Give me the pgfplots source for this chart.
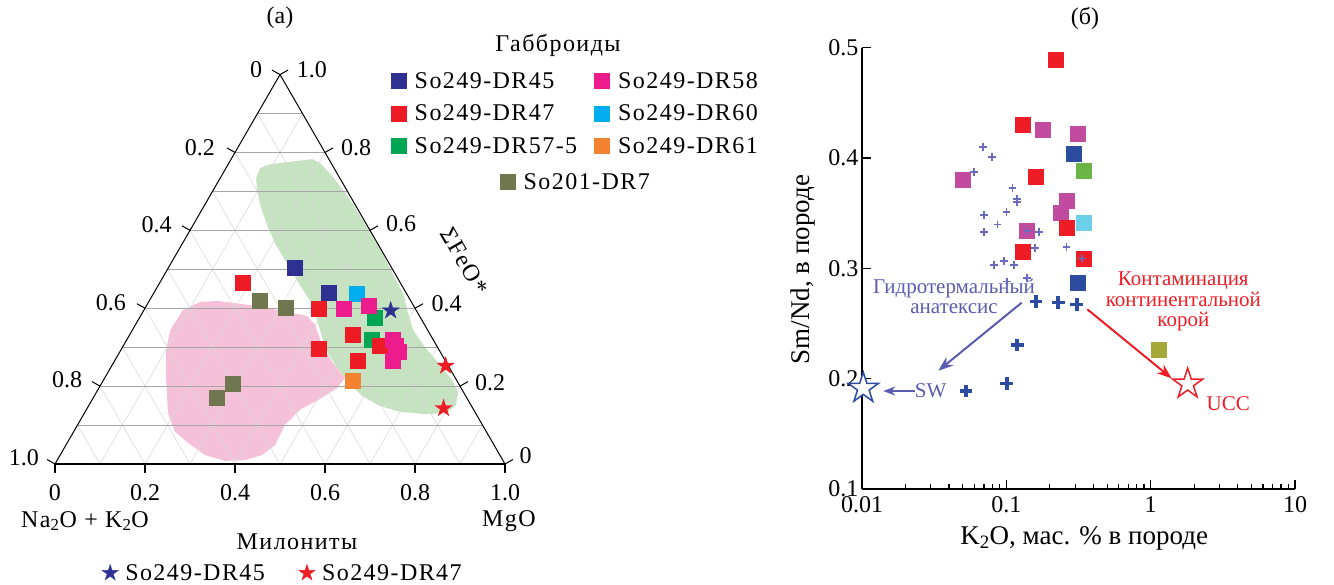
\documentclass[border=0pt]{standalone}
\usepackage{fontspec}
\setmainfont{Liberation Serif}
\newfontfamily\lsf[LetterSpace=6]{Liberation Serif}
\usepackage{pgfplots}
\pgfplotsset{compat=1.18}
\usetikzlibrary{arrows.meta}

\newcommand{\fs}{\fontsize{24}{28}\selectfont}
\newcommand{\fb}{\fontsize{27}{31}\selectfont}
\newcommand{\fl}{\lsf\fontsize{24}{28}\selectfont}
\newcommand{\fsm}{\fontsize{21}{20.5}\selectfont}

\definecolor{cnavy}{HTML}{2E3192}
\definecolor{cred}{HTML}{ED1C24}
\definecolor{cgreen}{HTML}{00A651}
\definecolor{cmag}{HTML}{EC1C8C}
\definecolor{ccyan}{HTML}{00AEEF}
\definecolor{corange}{HTML}{F38331}
\definecolor{colive}{HTML}{707650}
\definecolor{fpink}{HTML}{F5C1D9}
\definecolor{fgreen}{HTML}{C6E3C1}
\definecolor{gridh}{HTML}{A6A6A6}
\definecolor{gridd}{HTML}{D9D9D9}
\definecolor{bred}{HTML}{EE1D25}
\definecolor{bpurp}{HTML}{C04B9F}
\definecolor{bnavy}{HTML}{2B4C9F}
\definecolor{bgreen}{HTML}{6AB545}
\definecolor{bcyan}{HTML}{6CD0E8}
\definecolor{bolive}{HTML}{A5A93A}
\definecolor{bplus}{HTML}{6B6BBD}
\definecolor{bplusd}{HTML}{2B4CA0}
\definecolor{hyd}{HTML}{5B5BB0}

\pgfdeclareplotmark{fstar}{%
  \pgfpathmoveto{\pgfqpoint{0pt}{\pgfplotmarksize}}%
  \pgfpathlineto{\pgfqpoint{-0.2245\pgfplotmarksize}{0.309\pgfplotmarksize}}%
  \pgfpathlineto{\pgfqpoint{-0.951\pgfplotmarksize}{0.309\pgfplotmarksize}}%
  \pgfpathlineto{\pgfqpoint{-0.363\pgfplotmarksize}{-0.118\pgfplotmarksize}}%
  \pgfpathlineto{\pgfqpoint{-0.588\pgfplotmarksize}{-0.809\pgfplotmarksize}}%
  \pgfpathlineto{\pgfqpoint{0pt}{-0.382\pgfplotmarksize}}%
  \pgfpathlineto{\pgfqpoint{0.588\pgfplotmarksize}{-0.809\pgfplotmarksize}}%
  \pgfpathlineto{\pgfqpoint{0.363\pgfplotmarksize}{-0.118\pgfplotmarksize}}%
  \pgfpathlineto{\pgfqpoint{0.951\pgfplotmarksize}{0.309\pgfplotmarksize}}%
  \pgfpathlineto{\pgfqpoint{0.2245\pgfplotmarksize}{0.309\pgfplotmarksize}}%
  \pgfpathclose
  \pgfusepathqfillstroke}

\newcommand{\seg}[5][]{\addplot[#1, forget plot] coordinates {(#2,#3) (#4,#5)};}

\pgfplotsset{
  ternbox/.style={at={(55pt,121pt)}, anchor=south west, scale only axis,
    width=450pt, height=389.4pt, xmin=0, xmax=1, ymin=0, ymax=1, clip=false},
  mylegimg/.style={legend image code/.code={\draw[##1] plot coordinates {(0pt,0pt)};}},
}

\begin{document}
\begin{tikzpicture}[font=\fs]
\useasboundingbox (0,0) rectangle (1334pt,585pt);

%================ panel (a) =================
\begin{axis}[ternbox, axis lines=none, mylegimg,
  legend columns=2, legend cell align=left,
  legend style={at={(0.7456,0.9)}, anchor=west, draw=none, fill=none,
    inner xsep=0pt, inner ysep=0pt, font=\fl, row sep=11pt,
    nodes={inner sep=2pt},
    /tikz/every odd column/.append style={column sep=7pt},
    /tikz/every even column/.append style={column sep=15pt}}]

% fields
\addplot[fill=fpink, draw=none, forget plot] coordinates {
(0.322,0.416) (0.360,0.419) (0.433,0.408) (0.507,0.393) (0.560,0.380) (0.578,0.357)
(0.593,0.306) (0.616,0.262) (0.644,0.221) (0.627,0.195) (0.584,0.164) (0.544,0.139)
(0.511,0.100) (0.489,0.049) (0.460,0.023) (0.422,0.010) (0.378,0.008) (0.333,0.023)
(0.296,0.054) (0.267,0.082) (0.251,0.131) (0.247,0.216) (0.247,0.293) (0.256,0.344)
(0.284,0.395)} -- cycle;
\addplot[fill=fgreen, draw=none, forget plot] coordinates {
(0.447,0.734) (0.456,0.760) (0.478,0.770) (0.522,0.776) (0.571,0.783) (0.589,0.773)
(0.618,0.737) (0.656,0.678) (0.693,0.609) (0.727,0.542) (0.755,0.478) (0.775,0.434)
(0.784,0.390) (0.796,0.344) (0.822,0.300) (0.856,0.254) (0.882,0.216) (0.896,0.185)
(0.891,0.152) (0.871,0.131) (0.822,0.128) (0.767,0.134) (0.722,0.149) (0.682,0.175)
(0.651,0.211) (0.624,0.252) (0.602,0.293) (0.589,0.344) (0.573,0.408) (0.544,0.460)
(0.518,0.511) (0.491,0.562) (0.471,0.614) (0.456,0.665) (0.449,0.704)} -- cycle;

% grid: diagonals
\seg[gridd, line width=0.6pt]{0.1}{0}{0.55}{0.9}
\seg[gridd, line width=0.6pt]{0.2}{0}{0.6}{0.8}
\seg[gridd, line width=0.6pt]{0.3}{0}{0.65}{0.7}
\seg[gridd, line width=0.6pt]{0.4}{0}{0.7}{0.6}
\seg[gridd, line width=0.6pt]{0.5}{0}{0.75}{0.5}
\seg[gridd, line width=0.6pt]{0.6}{0}{0.8}{0.4}
\seg[gridd, line width=0.6pt]{0.7}{0}{0.85}{0.3}
\seg[gridd, line width=0.6pt]{0.8}{0}{0.9}{0.2}
\seg[gridd, line width=0.6pt]{0.9}{0}{0.95}{0.1}
\seg[gridd, line width=0.6pt]{0.1}{0}{0.05}{0.1}
\seg[gridd, line width=0.6pt]{0.2}{0}{0.1}{0.2}
\seg[gridd, line width=0.6pt]{0.3}{0}{0.15}{0.3}
\seg[gridd, line width=0.6pt]{0.4}{0}{0.2}{0.4}
\seg[gridd, line width=0.6pt]{0.5}{0}{0.25}{0.5}
\seg[gridd, line width=0.6pt]{0.6}{0}{0.3}{0.6}
\seg[gridd, line width=0.6pt]{0.7}{0}{0.35}{0.7}
\seg[gridd, line width=0.6pt]{0.8}{0}{0.4}{0.8}
\seg[gridd, line width=0.6pt]{0.9}{0}{0.45}{0.9}
% grid: horizontals
\seg[gridh, line width=0.8pt]{0.05}{0.1}{0.95}{0.1}
\seg[gridh, line width=0.8pt]{0.1}{0.2}{0.9}{0.2}
\seg[gridh, line width=0.8pt]{0.15}{0.3}{0.85}{0.3}
\seg[gridh, line width=0.8pt]{0.2}{0.4}{0.8}{0.4}
\seg[gridh, line width=0.8pt]{0.25}{0.5}{0.75}{0.5}
\seg[gridh, line width=0.8pt]{0.3}{0.6}{0.7}{0.6}
\seg[gridh, line width=0.8pt]{0.35}{0.7}{0.65}{0.7}
\seg[gridh, line width=0.8pt]{0.4}{0.8}{0.6}{0.8}
\seg[gridh, line width=0.8pt]{0.45}{0.9}{0.55}{0.9}

% triangle
\seg[black, line width=1pt]{0}{0}{0.5}{1}
\seg[black, line width=1pt]{1}{0}{0.5}{1}
\seg[black, line width=2pt]{-0.002}{0}{1.002}{0}
% ticks
\seg[black, line width=2pt]{0}{0}{0}{-0.023}
\seg[black, line width=2pt]{0.2}{0}{0.2}{-0.023}
\seg[black, line width=2pt]{0.4}{0}{0.4}{-0.023}
\seg[black, line width=2pt]{0.6}{0}{0.6}{-0.023}
\seg[black, line width=2pt]{0.8}{0}{0.8}{-0.023}
\seg[black, line width=2pt]{1}{0}{1}{-0.023}
\seg[black, line width=1pt]{0}{0}{-0.0178}{0.0116}
\seg[black, line width=1pt]{0.1}{0.2}{0.0822}{0.2116}
\seg[black, line width=1pt]{0.2}{0.4}{0.1822}{0.4116}
\seg[black, line width=1pt]{0.3}{0.6}{0.2822}{0.6116}
\seg[black, line width=1pt]{0.4}{0.8}{0.3822}{0.8116}
\seg[black, line width=1pt]{0.5}{1}{0.4822}{1.0116}
\seg[black, line width=1pt]{1}{0}{1.0178}{0.0116}
\seg[black, line width=1pt]{0.9}{0.2}{0.9178}{0.2116}
\seg[black, line width=1pt]{0.8}{0.4}{0.8178}{0.4116}
\seg[black, line width=1pt]{0.7}{0.6}{0.7178}{0.6116}
\seg[black, line width=1pt]{0.6}{0.8}{0.6178}{0.8116}
\seg[black, line width=1pt]{0.5}{1}{0.5178}{1.0116}

% samples: M = MgO share, F = FeO* share
\addplot[only marks, mark=square*, mark size=7.5pt, color=colive, forget plot]
  table[x expr=\thisrow{M}+0.5*\thisrow{F}, y=F] {
M F
0.245 0.419
0.311 0.402
0.291 0.207
0.274 0.169
};
\addplot[only marks, mark=square*, mark size=7.5pt, color=cnavy, forget plot]
  table[x expr=\thisrow{M}+0.5*\thisrow{F}, y=F] {
M F
0.281 0.503
0.388 0.439
};
\addplot[only marks, mark=square*, mark size=7.5pt, color=cgreen, forget plot]
  table[x expr=\thisrow{M}+0.5*\thisrow{F}, y=F] {
M F
0.524 0.375
0.545 0.319
};
\addplot[only marks, mark=square*, mark size=7.5pt, color=cred, forget plot]
  table[x expr=\thisrow{M}+0.5*\thisrow{F}, y=F] {
M F
0.185 0.465
0.387 0.400
0.494 0.333
0.570 0.303
0.437 0.297
0.540 0.265
};
\addplot[only marks, mark=square*, mark size=7.5pt, color=ccyan, forget plot]
  table[x expr=\thisrow{M}+0.5*\thisrow{F}, y=F] {
M F
0.451 0.437
};
\addplot[only marks, mark=square*, mark size=7.5pt, color=corange, forget plot]
  table[x expr=\thisrow{M}+0.5*\thisrow{F}, y=F] {
M F
0.554 0.213
};
\addplot[only marks, mark=square*, mark size=7.5pt, color=cmag, forget plot]
  table[x expr=\thisrow{M}+0.5*\thisrow{F}, y=F] {
M F
0.442 0.398
0.495 0.406
0.591 0.319
0.605 0.303
0.619 0.289
0.617 0.266
};
\addplot[only marks, mark=fstar, mark size=9pt, color=cnavy, forget plot]
  table[x expr=\thisrow{M}+0.5*\thisrow{F}, y=F] {
M F
0.549 0.394
};
\addplot[only marks, mark=fstar, mark size=9pt, color=cred, forget plot]
  table[x expr=\thisrow{M}+0.5*\thisrow{F}, y=F] {
M F
0.742 0.252
0.792 0.143
};

\addlegendimage{only marks, mark=square*, mark size=7.5pt, color=cnavy}
\addlegendentry{So249-DR45}
\addlegendimage{only marks, mark=square*, mark size=7.5pt, color=cmag}
\addlegendentry{So249-DR58}
\addlegendimage{only marks, mark=square*, mark size=7.5pt, color=cred}
\addlegendentry{So249-DR47}
\addlegendimage{only marks, mark=square*, mark size=7.5pt, color=ccyan}
\addlegendentry{So249-DR60}
\addlegendimage{only marks, mark=square*, mark size=7.5pt, color=cgreen}
\addlegendentry{So249-DR57-5}
\addlegendimage{only marks, mark=square*, mark size=7.5pt, color=corange}
\addlegendentry{So249-DR61}

% tick labels
\node at (axis cs:0.4467,1.0118) {0};
\node at (axis cs:0.3222,0.8115) {0.2};
\node at (axis cs:0.2256,0.6138) {0.4};
\node at (axis cs:0.1244,0.4135) {0.6};
\node at (axis cs:0.0267,0.2157) {0.8};
\node at (axis cs:-0.0689,0.0154) {1.0};
\node at (axis cs:0.5711,1.0118) {1.0};
\node at (axis cs:0.6689,0.8115) {0.8};
\node at (axis cs:0.7689,0.6163) {0.6};
\node at (axis cs:0.8704,0.4127) {0.4};
\node at (axis cs:0.9667,0.2080) {0.2};
\node at (axis cs:1.046,0.0205) {0};
\node at (axis cs:0,-0.0745) {0};
\node at (axis cs:0.2,-0.0745) {0.2};
\node at (axis cs:0.4,-0.0745) {0.4};
\node at (axis cs:0.6,-0.0745) {0.6};
\node at (axis cs:0.8,-0.0745) {0.8};
\node at (axis cs:1,-0.0745) {1.0};
\node[font=\fl] at (axis cs:0.0667,-0.1464) {Na\textsubscript{2}O + K\textsubscript{2}O};
\node[font=\fl] at (axis cs:1.0089,-0.1464) {MgO};
\node[font=\fl, rotate=-60, inner sep=0pt] at (axis cs:0.9100,0.5210) {ΣFeO*};
\node at (axis cs:0.5,1.1454) {(а)};
\node[font=\fl] at (axis cs:1.1178,1.076) {Габброиды};
\node[font=\fl] at (axis cs:0.5378,-0.2003) {Милониты};
\end{axis}

% legend: So201-DR7
\begin{axis}[ternbox, hide axis, mylegimg,
  legend style={at={(0.9878,0.7242)}, anchor=west, draw=none, fill=none,
    inner xsep=0pt, inner ysep=0pt, font=\fl, nodes={inner sep=2pt},
    /tikz/every odd column/.append style={column sep=7pt}}]
\addlegendimage{only marks, mark=square*, mark size=7.5pt, color=colive}
\addlegendentry{So201-DR7}
\end{axis}

% legend: mylonites
\begin{axis}[ternbox, hide axis, mylegimg, legend columns=2,
  legend style={at={(0.1042,-0.2799)}, anchor=west, draw=none, fill=none,
    inner xsep=0pt, inner ysep=0pt, font=\fl, nodes={inner sep=2pt},
    /tikz/every odd column/.append style={column sep=5pt},
    /tikz/every even column/.append style={column sep=32pt}}]
\addlegendimage{only marks, mark=fstar, mark size=8.5pt, color=cnavy}
\addlegendentry{So249-DR45}
\addlegendimage{only marks, mark=fstar, mark size=8.5pt, color=cred}
\addlegendentry{So249-DR47}
\end{axis}

%================ panel (b) =================
\begin{axis}[at={(862pt,96pt)}, anchor=south west, scale only axis,
  width=433pt, height=441.3pt, clip=false,
  xmode=log, xmin=0.01, xmax=10, ymin=0.1, ymax=0.5,
  axis lines=left, axis line style={-, line width=1.3pt},
  xtick={0.01,0.1,1,10}, xticklabels={0.01,0.1,1,10},
  minor xtick={0.02,0.03,0.04,0.05,0.06,0.07,0.08,0.09,0.2,0.3,0.4,0.5,0.6,0.7,0.8,0.9,2,3,4,5,6,7,8,9},
  ytick={0.1,0.2,0.3,0.4,0.5}, yticklabels={0.1,0.2,0.3,0.4,0.5},
  tick align=inside, major tick length=9pt, minor tick length=5pt,
  every tick/.style={black, line width=1.2pt},
  tick label style={font=\fs},
  xticklabel style={yshift=-4pt},
  label style={font=\fb},
  xlabel={K\textsubscript{2}O, мас. \% в породе},
  ylabel={Sm/Nd, в породе},
  xlabel style={at={(axis description cs:0.513,-0.113)}, anchor=center},
  ylabel style={at={(axis description cs:-0.136,0.497)}, anchor=center}]

\addplot[only marks, mark=square*, mark size=7.5pt, color=bpurp] table {
x y
0.1786 0.4254
0.3102 0.4224
0.04985 0.3801
0.2620 0.3610
0.2392 0.3504
0.1390 0.3341
};
\addplot[only marks, mark=square*, mark size=7.5pt, color=bred] table {
x y
0.2208 0.4889
0.1299 0.4306
0.1587 0.3831
0.2620 0.3368
0.1299 0.3151
0.3415 0.3085
};
\addplot[only marks, mark=square*, mark size=7.5pt, color=bnavy] table {
x y
0.2911 0.4043
0.3102 0.2870
};
\addplot[only marks, mark=square*, mark size=7.5pt, color=bgreen] table {
x y
0.3415 0.3885
};
\addplot[only marks, mark=square*, mark size=7.5pt, color=bcyan] table {
x y
0.3415 0.3417
};
\addplot[only marks, mark=square*, mark size=7.5pt, color=bolive] table {
x y
1.1425 0.2266
};
\addplot[only marks, mark=+, mark size=3.8pt, color=bplus, mark options={line width=1.6pt}] table {
x y
0.0692 0.4100
0.0796 0.4007
0.0597 0.3871
0.1100 0.3726
0.1186 0.3629
0.1190 0.3604
0.0697 0.3481
0.1000 0.3508
0.0866 0.3399
0.0697 0.3332
0.1406 0.3339
0.1676 0.3332
0.1587 0.3182
0.2603 0.3196
0.0825 0.3030
0.0964 0.3067
0.1125 0.3030
0.3329 0.3091
0.1397 0.2910
0.1006 0.2879
};
\addplot[only marks, mark=+, mark size=6.3pt, color=bplusd, mark options={line width=3.6pt}] table {
x y
0.1605 0.2698
0.2291 0.2689
0.3073 0.2674
0.1191 0.2305
0.1006 0.1958
0.0525 0.1888
};
\addplot[only marks, mark=fstar, mark size=16pt, color=bplusd, mark options={fill=white, line width=1.5pt}] coordinates {(0.01021,0.1913)};
\addplot[only marks, mark=fstar, mark size=16pt, color=bred, mark options={fill=white, line width=1.5pt}] coordinates {(1.805,0.1952)};

\addplot[hyd, line width=2pt, -{Stealth[length=15pt,width=11pt]}] coordinates {(0.1278,0.2689) (0.03378,0.2072)};
\addplot[hyd, line width=2pt, -{Stealth[length=12pt,width=9pt]}] coordinates {(0.0233,0.1888) (0.01404,0.1888)};
\addplot[bred, line width=2pt, -{Stealth[length=15pt,width=11pt]}] coordinates {(0.3639,0.2629) (1.399,0.2003)};

\node[hyd, font=\fsm, align=center] at (axis cs:0.04339,0.2746) {Гидротермальный\\анатексис};
\node[bred, font=\fsm, align=center] at (axis cs:1.6836,0.2698) {Контаминация\\континентальной\\корой};
\node[hyd, font=\fsm] at (axis cs:0.02992,0.1888) {SW};
\node[bred, font=\fsm] at (axis cs:3.451,0.1770) {UCC};
\node at (axis description cs:0.515,1.0673) {(б)};
\end{axis}
\end{tikzpicture}
\end{document}
